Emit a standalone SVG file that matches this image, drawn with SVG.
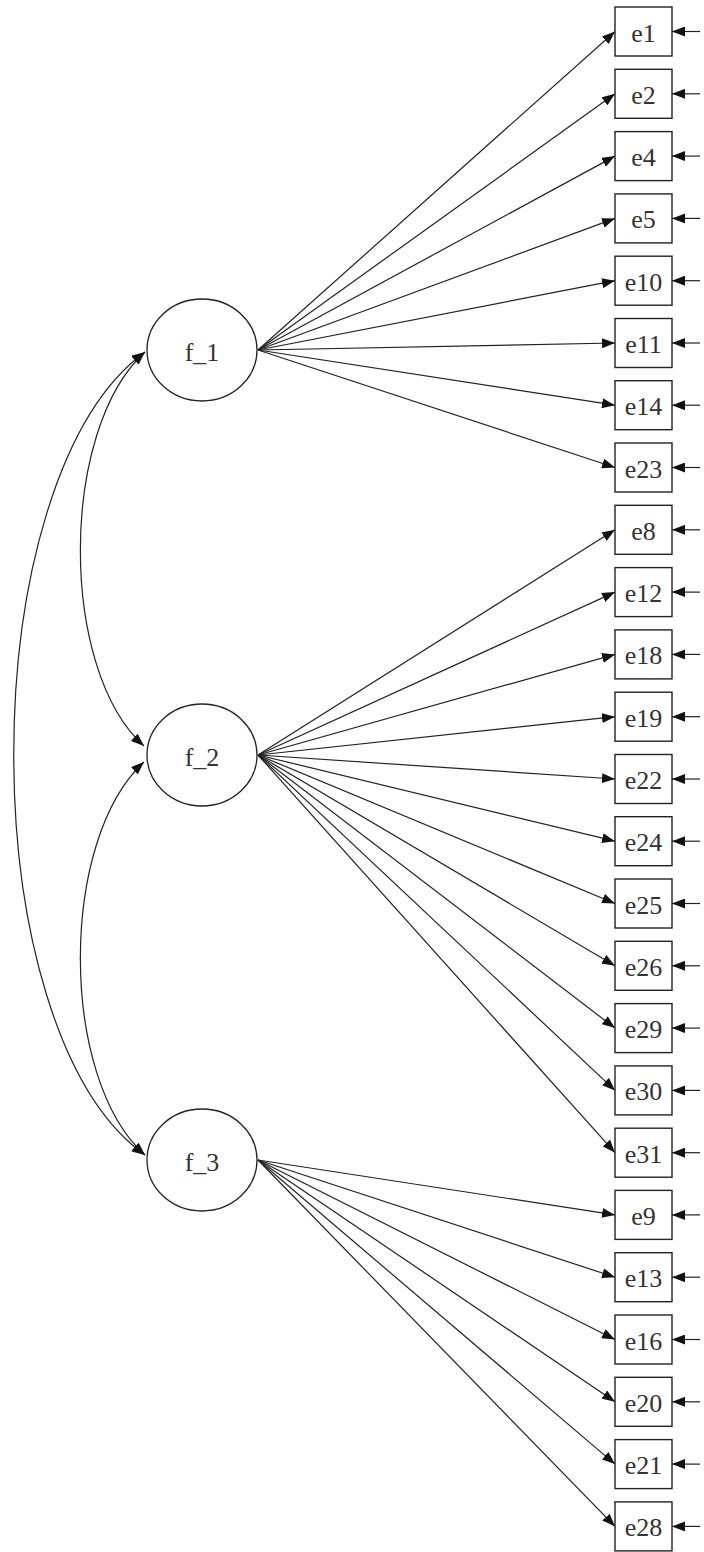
<svg xmlns="http://www.w3.org/2000/svg" width="704" height="1552" viewBox="0 0 704 1552">
<style>
.bg{fill:#fff}
.lat{fill:#fff;stroke:#222;stroke-width:1.3}
.obs{fill:#fff;stroke:#222;stroke-width:1.4}
.lbl{font-family:"Liberation Serif","Times New Roman",serif;font-size:26px;fill:#333;text-anchor:middle;dominant-baseline:central}
.edge{fill:none;stroke:#222;stroke-width:1.2;marker-end:url(#ah)}
.cov{fill:none;stroke:#222;stroke-width:1.2;marker-end:url(#ah);marker-start:url(#ah)}
</style>
<defs>
<marker id="ah" markerUnits="userSpaceOnUse" markerWidth="14" markerHeight="10" refX="13" refY="5" orient="auto-start-reverse">
<path d="M0,0 L13,5 L0,10 z" fill="#111"/>
</marker>
</defs>
<rect class="bg" x="0" y="0" width="704" height="1552"/>
<g id="connectors">
<path class="cov" d="M145,352 C-30,480 -30,1030 145,1155"/>
<path class="cov" d="M145,352 C59,430 59,670 144,746"/>
<path class="cov" d="M144,762 C59,840 59,1078 145,1155"/>
<path class="edge" d="M258,350 L615,31.5"/>
<path class="edge" d="M258,350 L615,93.8"/>
<path class="edge" d="M258,350 L615,156.1"/>
<path class="edge" d="M258,350 L615,218.4"/>
<path class="edge" d="M258,350 L615,280.7"/>
<path class="edge" d="M258,350 L615,343"/>
<path class="edge" d="M258,350 L615,405.2"/>
<path class="edge" d="M258,350 L615,467.5"/>
<path class="edge" d="M258,755 L615,529.8"/>
<path class="edge" d="M258,755 L615,592.1"/>
<path class="edge" d="M258,755 L615,654.4"/>
<path class="edge" d="M258,755 L615,716.7"/>
<path class="edge" d="M258,755 L615,779"/>
<path class="edge" d="M258,755 L615,841.2"/>
<path class="edge" d="M258,755 L615,903.5"/>
<path class="edge" d="M258,755 L615,965.8"/>
<path class="edge" d="M258,755 L615,1028.1"/>
<path class="edge" d="M258,755 L615,1090.4"/>
<path class="edge" d="M258,755 L615,1152.7"/>
<path class="edge" d="M258,1160 L615,1214.9"/>
<path class="edge" d="M258,1160 L615,1277.2"/>
<path class="edge" d="M258,1160 L615,1339.5"/>
<path class="edge" d="M258,1160 L615,1401.8"/>
<path class="edge" d="M258,1160 L615,1464.1"/>
<path class="edge" d="M258,1160 L615,1526.4"/>
<path class="edge" d="M700,31.5 H672"/>
<path class="edge" d="M700,93.8 H672"/>
<path class="edge" d="M700,156.1 H672"/>
<path class="edge" d="M700,218.4 H672"/>
<path class="edge" d="M700,280.7 H672"/>
<path class="edge" d="M700,343 H672"/>
<path class="edge" d="M700,405.2 H672"/>
<path class="edge" d="M700,467.5 H672"/>
<path class="edge" d="M700,529.8 H672"/>
<path class="edge" d="M700,592.1 H672"/>
<path class="edge" d="M700,654.4 H672"/>
<path class="edge" d="M700,716.7 H672"/>
<path class="edge" d="M700,779 H672"/>
<path class="edge" d="M700,841.2 H672"/>
<path class="edge" d="M700,903.5 H672"/>
<path class="edge" d="M700,965.8 H672"/>
<path class="edge" d="M700,1028.1 H672"/>
<path class="edge" d="M700,1090.4 H672"/>
<path class="edge" d="M700,1152.7 H672"/>
<path class="edge" d="M700,1214.9 H672"/>
<path class="edge" d="M700,1277.2 H672"/>
<path class="edge" d="M700,1339.5 H672"/>
<path class="edge" d="M700,1401.8 H672"/>
<path class="edge" d="M700,1464.1 H672"/>
<path class="edge" d="M700,1526.4 H672"/>
</g>
<g id="f_1"><ellipse class="lat" cx="202" cy="350" rx="55" ry="51"/><text class="lbl" x="202" y="352">f_1</text></g>
<g id="f_2"><ellipse class="lat" cx="202" cy="755" rx="55" ry="51"/><text class="lbl" x="202" y="757">f_2</text></g>
<g id="f_3"><ellipse class="lat" cx="202" cy="1160" rx="55" ry="51"/><text class="lbl" x="202" y="1162">f_3</text></g>
<g id="e1"><rect class="obs" x="615" y="7" width="57" height="49"/><text class="lbl" x="643.5" y="33">e1</text></g>
<g id="e2"><rect class="obs" x="615" y="69.3" width="57" height="49"/><text class="lbl" x="643.5" y="95.3">e2</text></g>
<g id="e4"><rect class="obs" x="615" y="131.6" width="57" height="49"/><text class="lbl" x="643.5" y="157.6">e4</text></g>
<g id="e5"><rect class="obs" x="615" y="193.9" width="57" height="49"/><text class="lbl" x="643.5" y="219.9">e5</text></g>
<g id="e10"><rect class="obs" x="615" y="256.2" width="57" height="49"/><text class="lbl" x="643.5" y="282.2">e10</text></g>
<g id="e11"><rect class="obs" x="615" y="318.5" width="57" height="49"/><text class="lbl" x="643.5" y="344.5">e11</text></g>
<g id="e14"><rect class="obs" x="615" y="380.7" width="57" height="49"/><text class="lbl" x="643.5" y="406.7">e14</text></g>
<g id="e23"><rect class="obs" x="615" y="443" width="57" height="49"/><text class="lbl" x="643.5" y="469">e23</text></g>
<g id="e8"><rect class="obs" x="615" y="505.3" width="57" height="49"/><text class="lbl" x="643.5" y="531.3">e8</text></g>
<g id="e12"><rect class="obs" x="615" y="567.6" width="57" height="49"/><text class="lbl" x="643.5" y="593.6">e12</text></g>
<g id="e18"><rect class="obs" x="615" y="629.9" width="57" height="49"/><text class="lbl" x="643.5" y="655.9">e18</text></g>
<g id="e19"><rect class="obs" x="615" y="692.2" width="57" height="49"/><text class="lbl" x="643.5" y="718.2">e19</text></g>
<g id="e22"><rect class="obs" x="615" y="754.5" width="57" height="49"/><text class="lbl" x="643.5" y="780.5">e22</text></g>
<g id="e24"><rect class="obs" x="615" y="816.7" width="57" height="49"/><text class="lbl" x="643.5" y="842.7">e24</text></g>
<g id="e25"><rect class="obs" x="615" y="879" width="57" height="49"/><text class="lbl" x="643.5" y="905">e25</text></g>
<g id="e26"><rect class="obs" x="615" y="941.3" width="57" height="49"/><text class="lbl" x="643.5" y="967.3">e26</text></g>
<g id="e29"><rect class="obs" x="615" y="1003.6" width="57" height="49"/><text class="lbl" x="643.5" y="1029.6">e29</text></g>
<g id="e30"><rect class="obs" x="615" y="1065.9" width="57" height="49"/><text class="lbl" x="643.5" y="1091.9">e30</text></g>
<g id="e31"><rect class="obs" x="615" y="1128.2" width="57" height="49"/><text class="lbl" x="643.5" y="1154.2">e31</text></g>
<g id="e9"><rect class="obs" x="615" y="1190.4" width="57" height="49"/><text class="lbl" x="643.5" y="1216.4">e9</text></g>
<g id="e13"><rect class="obs" x="615" y="1252.7" width="57" height="49"/><text class="lbl" x="643.5" y="1278.7">e13</text></g>
<g id="e16"><rect class="obs" x="615" y="1315" width="57" height="49"/><text class="lbl" x="643.5" y="1341">e16</text></g>
<g id="e20"><rect class="obs" x="615" y="1377.3" width="57" height="49"/><text class="lbl" x="643.5" y="1403.3">e20</text></g>
<g id="e21"><rect class="obs" x="615" y="1439.6" width="57" height="49"/><text class="lbl" x="643.5" y="1465.6">e21</text></g>
<g id="e28"><rect class="obs" x="615" y="1501.9" width="57" height="49"/><text class="lbl" x="643.5" y="1527.9">e28</text></g>
</svg>
